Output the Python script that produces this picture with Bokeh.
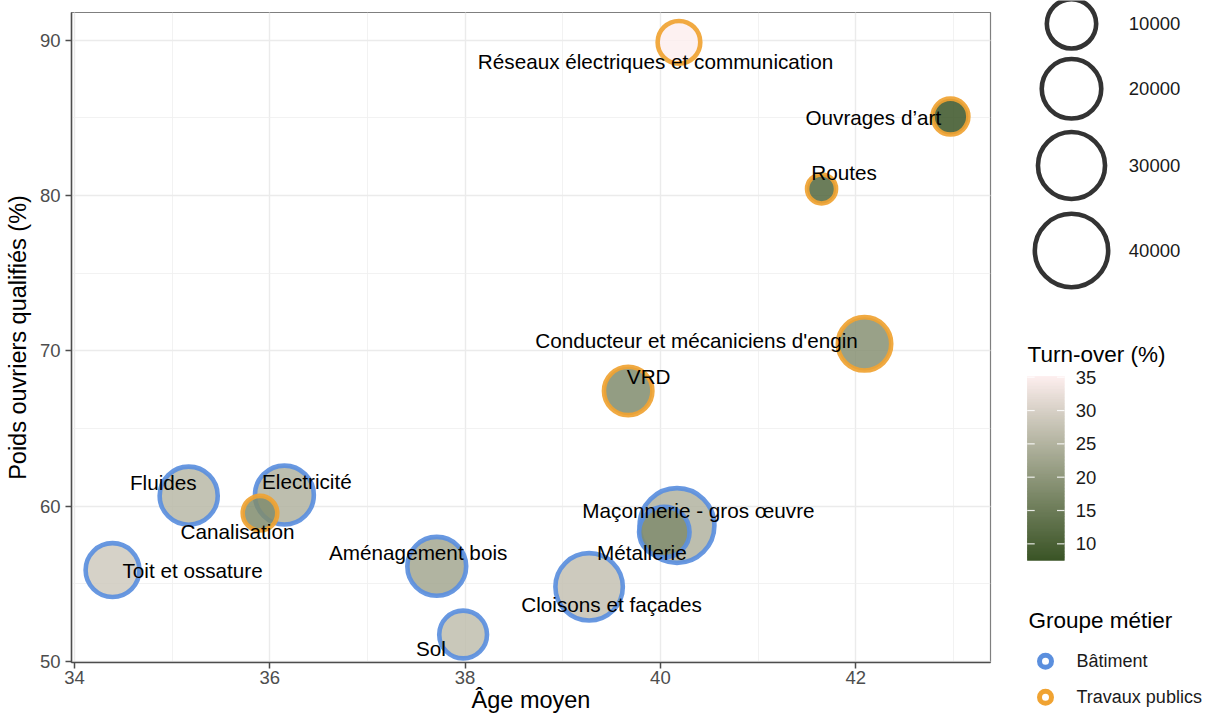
import numpy as np
from bokeh.plotting import figure
from bokeh.models import Range1d, ColumnDataSource, LinearColorMapper, SingleIntervalTicker
from bokeh.layouts import row
from bokeh.embed import file_html
from bokeh.resources import INLINE
from bokeh.core.properties import value

# ---------------- data ----------------
metiers = ["Réseaux électriques et communication", "Ouvrages d\u2019art", "Routes",
           "Conducteur et mécaniciens d'engin", "VRD", "Fluides", "Electricité",
           "Canalisation", "Toit et ossature", "Aménagement bois", "Sol",
           "Maçonnerie - gros \u0153uvre", "Métallerie", "Cloisons et façades"]
groupes = ["Travaux publics", "Travaux publics", "Travaux publics", "Travaux publics",
           "Travaux publics", "Bâtiment", "Bâtiment", "Travaux publics", "Bâtiment",
           "Bâtiment", "Bâtiment", "Bâtiment", "Bâtiment", "Bâtiment"]
age_moyen = [40.19, 42.97, 41.65, 42.09, 39.67, 35.17, 36.15, 35.90, 34.39, 37.71,
             37.98, 40.17, 40.04, 39.27]
poids_qualifies = [89.86, 85.08, 80.42, 70.45, 67.42, 60.68, 60.72, 59.55, 55.89, 56.13,
                   51.74, 58.76, 58.34, 54.81]
turnover = [35.15, 7.5, 11.0, 19.0, 18.0, 26.0, 25.0, 18.0, 29.0, 23.0, 27.0, 25.0, 18.0, 27.5]
effectif = [5600, 2900, 2000, 13500, 9300, 18300, 19200, 2600, 13900, 19200, 8800, 42500,
            10900, 30500]
# label anchor points (ggrepel-like placement), data coordinates
label_x = [39.95, 42.18, 41.88, 40.37, 39.88, 34.91, 36.38, 35.67, 35.21, 37.52, 37.65,
           40.39, 39.81, 39.50]
label_y = [88.63, 85.03, 81.47, 70.69, 68.32, 61.50, 61.61, 58.39, 55.85, 57.03, 50.82,
           59.72, 56.99, 53.66]

size_breaks = [10000, 20000, 30000, 40000]
size_labels = ["10000", "20000", "30000", "40000"]
turnover_ticks = [10, 15, 20, 25, 30, 35]
groupe_levels = ["Bâtiment", "Travaux publics"]

# ---------------- styles ----------------
FONT = "Liberation Sans"
GROUP_COLORS = {"Bâtiment": "#5B8FDE", "Travaux publics": "#F0A332"}
LOW_COL, HIGH_COL = "#3A5426", "#FDEEEE"
LW = 4.6
R_MIN, R_MAX = 16.8, 39.7
H = 718
MAIN_W, LEG_W = 992, 216


def outer_radius(v, vmin=min(effectif), vmax=max(effectif)):
    v = np.asarray(v, dtype=float)
    t = np.clip((v - vmin) / (vmax - vmin), 0, None)
    return R_MIN + (R_MAX - R_MIN) * np.sqrt(t)


# Lab interpolation (like ggplot's gradient)
WHITE = (0.95047, 1.0, 1.08883)


def _lin(c):
    c = c / 255
    return c / 12.92 if c <= 0.04045 else ((c + 0.055) / 1.055) ** 2.4


def _gam(c):
    c = 12.92 * c if c <= 0.0031308 else 1.055 * max(c, 0) ** (1 / 2.4) - 0.055
    return int(round(min(max(c, 0), 1) * 255))


def rgb2lab(h):
    r, g, b = [_lin(int(h[i:i + 2], 16)) for i in (1, 3, 5)]
    X = 0.4124 * r + 0.3576 * g + 0.1805 * b
    Y = 0.2126 * r + 0.7152 * g + 0.0722 * b
    Z = 0.0193 * r + 0.1192 * g + 0.9505 * b
    f = lambda t: t ** (1 / 3) if t > 0.008856 else 7.787 * t + 16 / 116
    fx, fy, fz = f(X / WHITE[0]), f(Y / WHITE[1]), f(Z / WHITE[2])
    return np.array([116 * fy - 16, 500 * (fx - fy), 200 * (fy - fz)])


def lab2rgb(lab):
    L, a, b = lab
    fy = (L + 16) / 116
    fx = fy + a / 500
    fz = fy - b / 200
    finv = lambda t: t ** 3 if t ** 3 > 0.008856 else (t - 16 / 116) / 7.787
    X, Y, Z = WHITE[0] * finv(fx), WHITE[1] * finv(fy), WHITE[2] * finv(fz)
    r = 3.2406 * X - 1.5372 * Y - 0.4986 * Z
    g = -0.9689 * X + 1.8758 * Y + 0.0415 * Z
    bb = 0.0557 * X - 0.2040 * Y + 1.0570 * Z
    return "#%02x%02x%02x" % (_gam(r), _gam(g), _gam(bb))


lo, hi = rgb2lab(LOW_COL), rgb2lab(HIGH_COL)
palette = [lab2rgb(lo + (hi - lo) * t) for t in np.linspace(0, 1, 256)]
t_lo, t_hi = min(turnover), max(turnover)
mapper = LinearColorMapper(palette=palette, low=t_lo, high=t_hi)

# ---------------- main plot ----------------
p = figure(width=MAIN_W, height=H, x_range=Range1d(33.97, 43.38), y_range=Range1d(49.94, 91.78),
           output_backend="svg", toolbar_location=None,
           min_border_left=71, min_border_right=2, min_border_top=12, min_border_bottom=56)
p.title.visible = False
p.background_fill_color = "white"
p.border_fill_color = "white"
p.outline_line_color = "#7F7F7F"
p.outline_line_width = 1.2

p.xaxis.ticker = SingleIntervalTicker(interval=2, num_minor_ticks=2)
p.yaxis.ticker = SingleIntervalTicker(interval=10, num_minor_ticks=2)
for g in (p.xgrid, p.ygrid):
    g.grid_line_color = "#EBEBEB"
    g.grid_line_width = 1.4
    g.minor_grid_line_color = "#EFEFEF"
    g.minor_grid_line_width = 0.8
for ax in (p.xaxis, p.yaxis):
    ax.axis_line_color = "#4D4D4D"
    ax.axis_line_width = 1.5
    ax.major_tick_line_color = "#4D4D4D"
    ax.major_tick_line_width = 1.5
    ax.major_tick_out = 6
    ax.major_tick_in = 0
    ax.minor_tick_out = 0
    ax.minor_tick_in = 0
    ax.major_label_text_font = FONT
    ax.major_label_text_font_size = "18.5px"
    ax.major_label_text_color = "#4D4D4D"
    ax.axis_label_text_font = FONT
    ax.axis_label_text_font_size = "23.5px"
    ax.axis_label_text_font_style = "normal"
    ax.axis_label_text_color = "black"
p.xaxis.major_label_standoff = 2
p.yaxis.major_label_standoff = 5
p.xaxis.axis_label = "Âge moyen"
p.xaxis.axis_label_standoff = 0
p.yaxis.axis_label = "Poids ouvriers qualifiés (%)"
p.yaxis.axis_label_standoff = 6

r_out = outer_radius(effectif)
order = np.argsort(-r_out)
src = ColumnDataSource(dict(
    x=[age_moyen[i] for i in order],
    y=[poids_qualifies[i] for i in order],
    t=[turnover[i] for i in order],
    size=[float(2 * r_out[i] - LW) for i in order],
    lc=[GROUP_COLORS[groupes[i]] for i in order],
))
p.scatter("x", "y", source=src, size="size", fill_color={"field": "t", "transform": mapper},
          fill_alpha=0.85, line_color="lc", line_width=LW, line_alpha=0.92)

lab_src = ColumnDataSource(dict(x=label_x, y=label_y, text=metiers))
p.text("x", "y", text="text", source=lab_src, text_font=value(FONT), text_font_size="20.7px",
       text_align="center", text_baseline="middle", text_color="black")

# ---------------- legend panel (coordinates = page pixels) ----------------
lg = figure(width=LEG_W, height=H, x_range=Range1d(MAIN_W, MAIN_W + LEG_W), y_range=Range1d(H, 0),
            output_backend="svg", toolbar_location=None,
            min_border_left=0, min_border_right=0, min_border_top=0, min_border_bottom=0,
            x_axis_location=None, y_axis_location=None)
lg.title.visible = False
lg.grid.visible = False
lg.outline_line_color = None
lg.background_fill_color = "white"
lg.border_fill_color = "white"
for fig in (p, lg):
    try:
        fig.frame_align = False
    except Exception:
        pass

# size legend
size_y = [23.3, 88.3, 165.0, 250.0]
lg.scatter(x=[1071] * 4, y=size_y, size=[float(v) for v in 2 * outer_radius(size_breaks) - LW],
           fill_color=None, line_color="#333333", line_width=LW)
lg.text(x=[1128.3] * 4, y=size_y, text=size_labels, text_font=value(FONT), text_font_size="18.5px",
        text_align="left", text_baseline="middle", text_color="#1A1A1A")

# colour bar
bar_top, bar_bot, bar_l, bar_r = 375.7, 560.0, 1026.7, 1064.0


def bar_y(v):
    return bar_bot - (np.asarray(v, dtype=float) - t_lo) / (t_hi - t_lo) * (bar_bot - bar_top)


vals = np.linspace(t_lo, t_hi, 200)
step = (t_hi - t_lo) / 199
cb = ColumnDataSource(dict(v=vals, top=bar_y(vals + step / 2) - 0.4,
                           bottom=bar_y(vals - step / 2) + 0.4))
cb.data["top"] = np.maximum(cb.data["top"], bar_top)
cb.data["bottom"] = np.minimum(cb.data["bottom"], bar_bot)
lg.quad(left=bar_l, right=bar_r, top="top", bottom="bottom", source=cb,
        fill_color={"field": "v", "transform": mapper}, line_color=None)
ty = [float(v) for v in bar_y(turnover_ticks)]
lg.segment(x0=[bar_l] * 6, x1=[bar_l + 7.5] * 6, y0=ty, y1=ty, line_color="white",
           line_width=1.2, line_alpha=0.85)
lg.segment(x0=[bar_r - 7.5] * 6, x1=[bar_r] * 6, y0=ty, y1=ty, line_color="white",
           line_width=1.2, line_alpha=0.85)
lg.text(x=[1075.3] * 6, y=ty, text=[str(t) for t in turnover_ticks], text_font=value(FONT),
        text_font_size="18.5px", text_align="left", text_baseline="middle", text_color="#1A1A1A")
lg.text(x=[1027], y=[354], text=["Turn-over (%)"], text_font=value(FONT), text_font_size="22.5px",
        text_align="left", text_baseline="middle", text_color="black")

# group legend
lg.text(x=[1028], y=[620], text=["Groupe métier"], text_font=value(FONT), text_font_size="22.5px",
        text_align="left", text_baseline="middle", text_color="black")
gy = [660.7, 696.7]
lg.scatter(x=[1045, 1045], y=gy, size=12, fill_color="white", line_width=5,
           line_color=[GROUP_COLORS[g] for g in groupe_levels])
lg.text(x=[1076, 1076], y=gy, text=groupe_levels, text_font=value(FONT), text_font_size="18px",
        text_align="left", text_baseline="middle", text_color="#1A1A1A")

layout = row(p, lg)
open("out.html", "w").write(file_html(layout, INLINE))
